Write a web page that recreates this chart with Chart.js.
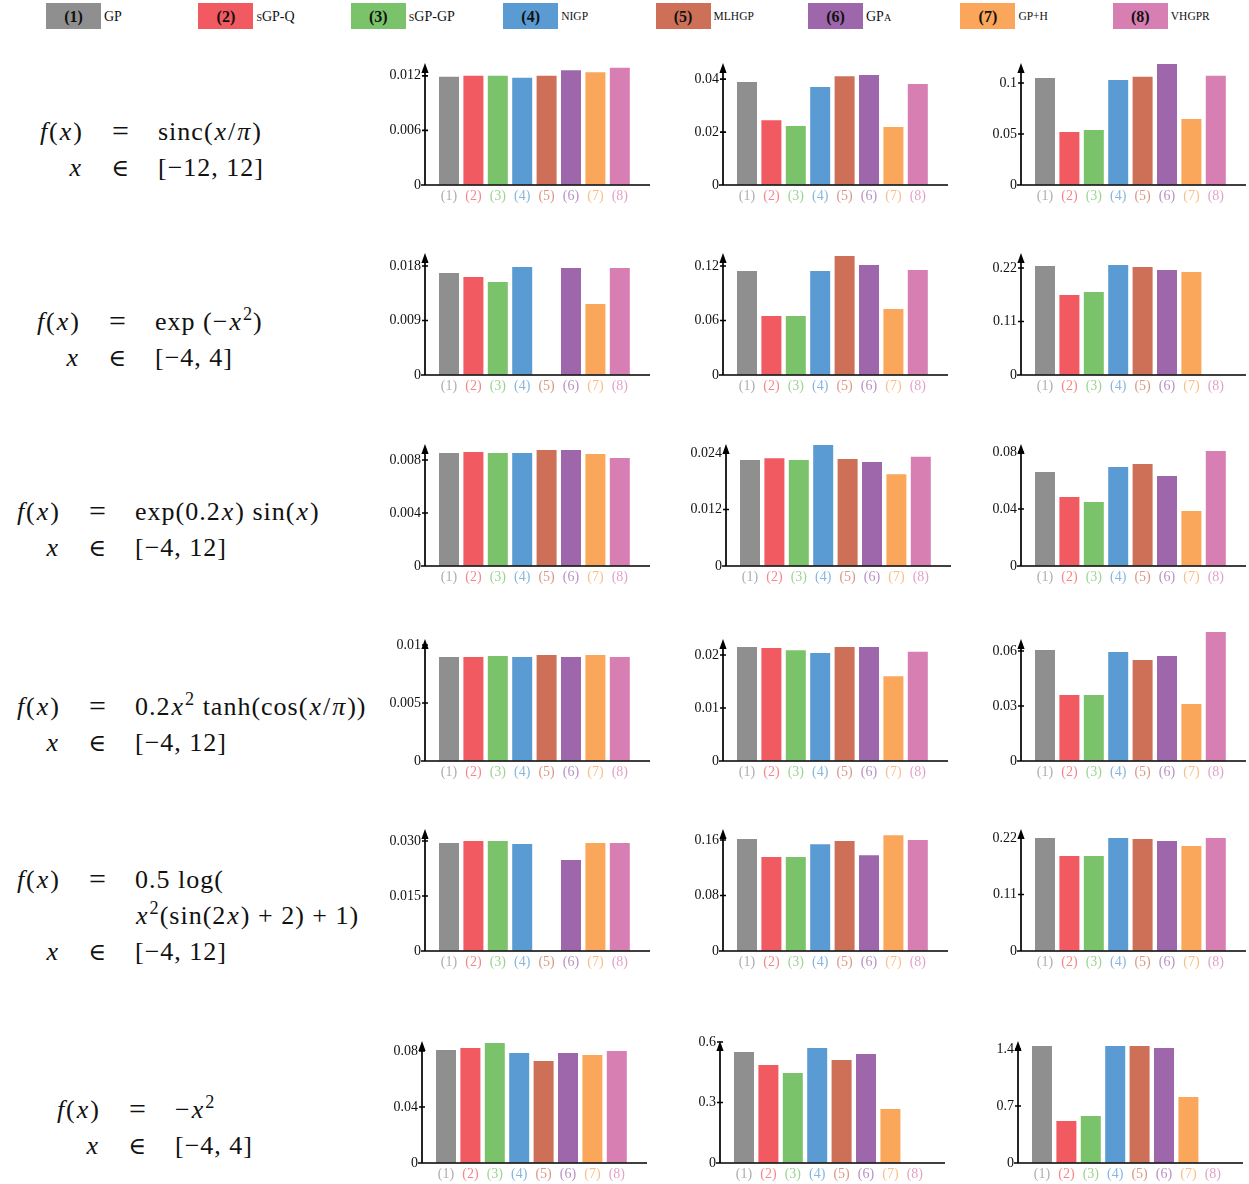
<!DOCTYPE html>
<html>
<head>
<meta charset="utf-8">
<script src="https://cdn.jsdelivr.net/npm/chart.js@4.4.1/dist/chart.umd.min.js"></script>
<style>
  body { margin: 0; width: 1249px; height: 1184px; position: relative; overflow: hidden; background: #fff; font-family: "Liberation Serif", serif; color: #111; }
  canvas { position: absolute; }
  .box { position: absolute; top: 3px; width: 55px; height: 26px; line-height: 27px; text-align: center; font-weight: bold; font-size: 16px; }
  .name { position: absolute; top: 3px; height: 26px; line-height: 27px; font-size: 14px; font-variant: small-caps; }
  .name.sm { font-size: 11.5px; }
  .fm { position: absolute; font-size: 26px; white-space: nowrap; line-height: 30px; letter-spacing: 1px; }
  .fm i { padding: 0 1px; }
  .fm sup { font-size: 0.7em; line-height: 0; vertical-align: 0.55em; }
  .fm .op { font-size: 30px; }
  .fm .in { font-family: "DejaVu Serif", serif; font-size: 24px; font-weight: 300; }
</style>
</head>
<body>
<div id="legend"></div>
<div id="formulas"></div>
<div id="charts"></div>
<script>
const methods = ["(1)", "(2)", "(3)", "(4)", "(5)", "(6)", "(7)", "(8)"];
const methodNames = ["GP", "sGP-Q", "sGP-GP", "NIGP", "MLHGP", "GPa", "GP+H", "VHGPR"];
const smallCapsNames = [false, false, false, true, true, false, true, true];
const methodColors = ["#8f8f8f", "#f15a60", "#7ac36a", "#5a9bd4", "#ce7058", "#9e67ab", "#faa75b", "#d77fb3"];

// row 1: sinc(x/pi)
const sincA = [0.0119, 0.0120, 0.0120, 0.0118, 0.0120, 0.0126, 0.0124, 0.0129];
const sincB = [0.0389, 0.0245, 0.0223, 0.0370, 0.0411, 0.0415, 0.0219, 0.0381];
const sincC = [0.105, 0.052, 0.054, 0.103, 0.106, 0.1186, 0.0647, 0.107];
const sincTicks = [["0", "0.006", "0.012"], ["0", "0.02", "0.04"], ["0", "0.05", "0.1"]];
const sincTop = [0.0133, 0.0457, 0.1186];

// row 2: exp(-x^2)
const gaussA = [0.01684, 0.01618, 0.01536, 0.01783, null, 0.01767, 0.01172, 0.01767];
const gaussB = [0.1145, 0.065, 0.065, 0.1145, 0.131, 0.121, 0.0727, 0.1156];
const gaussC = [0.224, 0.1645, 0.1707, 0.226, 0.222, 0.216, 0.212, null];
const gaussTicks = [["0", "0.009", "0.018"], ["0", "0.06", "0.12"], ["0", "0.11", "0.22"]];
const gaussTop = [0.01998, 0.1332, 0.2488];

// row 3: exp(0.2x) sin(x)
const expSinA = [0.00853, 0.0086, 0.00853, 0.00853, 0.00875, 0.00875, 0.00845, 0.00815];
const expSinB = [0.0225, 0.0229, 0.0225, 0.0257, 0.0227, 0.0221, 0.0195, 0.0232];
const expSinC = [0.066, 0.0484, 0.0449, 0.0695, 0.0716, 0.0632, 0.0386, 0.0807];
const expSinTicks = [["0", "0.004", "0.008"], ["0", "0.012", "0.024"], ["0", "0.04", "0.08"]];
const expSinTop = [0.00913, 0.0257, 0.0849];

// row 4: 0.2x^2 tanh(cos(x/pi))
const tanhA = [0.00897, 0.00897, 0.00905, 0.00897, 0.00914, 0.00897, 0.00914, 0.00897];
const tanhB = [0.0215, 0.0213, 0.0209, 0.0204, 0.0215, 0.0215, 0.0160, 0.0206];
const tanhC = [0.0605, 0.036, 0.036, 0.0595, 0.0551, 0.0573, 0.0311, 0.0704];
const tanhTicks = [["0", "0.005", "0.01"], ["0", "0.01", "0.02"], ["0", "0.03", "0.06"]];
const tanhTop = [0.01043, 0.02283, 0.066];

// row 5: 0.5 log(x^2 (sin(2x)+2)+1)
const logA = [0.02945, 0.0300, 0.0300, 0.0292, null, 0.0248, 0.02945, 0.02945];
const logB = [0.1614, 0.1355, 0.1355, 0.154, 0.1586, 0.138, 0.167, 0.160];
const logC = [0.220, 0.185, 0.185, 0.220, 0.218, 0.214, 0.2044, 0.220];
const logTicks = [["0", "0.015", "0.030"], ["0", "0.08", "0.16"], ["0", "0.11", "0.22"]];
const logTop = [0.033, 0.1744, 0.2356];

// row 6: -x^2
const quadA = [0.0807, 0.0821, 0.0857, 0.0786, 0.0729, 0.0786, 0.0771, 0.0800];
const quadB = [0.550, 0.486, 0.446, 0.570, 0.511, 0.540, 0.268, null];
const quadC = [1.437, 0.516, 0.577, 1.437, 1.437, 1.412, 0.810, null];
const quadTicks = [["0", "0.04", "0.08"], ["0", "0.3", "0.6"], ["0", "0.7", "1.4"]];
const quadTop = [0.0864, 0.6, 1.486];

const rows = [
  { vals: [sincA, sincB, sincC], ticks: sincTicks, top: sincTop },
  { vals: [gaussA, gaussB, gaussC], ticks: gaussTicks, top: gaussTop },
  { vals: [expSinA, expSinB, expSinC], ticks: expSinTicks, top: expSinTop },
  { vals: [tanhA, tanhB, tanhC], ticks: tanhTicks, top: tanhTop },
  { vals: [logA, logB, logC], ticks: logTicks, top: logTop },
  { vals: [quadA, quadB, quadC], ticks: quadTicks, top: quadTop }
];

// formulas: [left, middle, right] per line
const EQ = '<span class="op">=</span>', IN = '<span class="in">∈</span>';
const formulas = [
  { r: 83, y: 132, lines: [["<i>f</i>(<i>x</i>)", EQ, "sinc(<i>x</i>/<i>π</i>)"], ["<i>x</i>", IN, "[−12, 12]"]] },
  { r: 80, y: 322, lines: [["<i>f</i>(<i>x</i>)", EQ, "exp (−<i>x</i><sup>2</sup>)"], ["<i>x</i>", IN, "[−4, 4]"]] },
  { r: 60, y: 512, lines: [["<i>f</i>(<i>x</i>)", EQ, "exp(0.2<i>x</i>) sin(<i>x</i>)"], ["<i>x</i>", IN, "[−4, 12]"]] },
  { r: 60, y: 707, lines: [["<i>f</i>(<i>x</i>)", EQ, "0.2<i>x</i><sup>2</sup> tanh(cos(<i>x</i>/<i>π</i>))"], ["<i>x</i>", IN, "[−4, 12]"]] },
  { r: 60, y: 880, lines: [["<i>f</i>(<i>x</i>)", EQ, "0.5 log("], ["", "", "<i>x</i><sup>2</sup>(sin(2<i>x</i>) + 2) + 1)"], ["<i>x</i>", IN, "[−4, 12]"]] },
  { r: 100, y: 1110, lines: [["<i>f</i>(<i>x</i>)", EQ, "−<i>x</i><sup>2</sup>"], ["<i>x</i>", IN, "[−4, 4]"]] }
];

const zeroY = [185, 375, 566, 761, 951, 1163];
const axisX = [425, 723, 1021];
const plotH = 121;
const barGap = 11.8;   // from y axis to first category edge
const catSpan = 195.2; // 8 categories

// legend
const legend = document.getElementById("legend");
methods.forEach((m, i) => {
  const left = 46 + 152.4 * i;
  const b = document.createElement("div");
  b.className = "box";
  b.style.left = left + "px";
  b.style.background = methodColors[i];
  b.textContent = m;
  legend.appendChild(b);
  const n = document.createElement("div");
  n.className = "name" + (smallCapsNames[i] ? " sm" : "");
  n.style.left = (left + 58) + "px";
  n.textContent = methodNames[i];
  legend.appendChild(n);
});

// formulas
const fbox = document.getElementById("formulas");
formulas.forEach(f => {
  f.lines.forEach((ln, k) => {
    const cy = f.y + 36 * k;
    const parts = [
      { html: ln[0], x: f.r, tx: "-100%" },
      { html: ln[1], x: f.r + 38, tx: "-50%" },
      { html: ln[2], x: f.r + 75, tx: "0" }
    ];
    parts.forEach(p => {
      if (!p.html) return;
      const s = document.createElement("div");
      s.className = "fm";
      s.style.left = p.x + "px";
      s.style.top = cy + "px";
      s.style.transform = "translate(" + p.tx + ", -50%)";
      s.innerHTML = p.html;
      fbox.appendChild(s);
    });
  });
});

const arrowAxes = {
  id: "arrowAxes",
  afterDatasetsDraw(chart) {
    const { ctx, chartArea: a, scales } = chart;
    const x0 = a.left - barGap;
    ctx.save();
    ctx.strokeStyle = "#000";
    ctx.fillStyle = "#000";
    ctx.lineWidth = 1.7;
    ctx.beginPath();
    ctx.moveTo(x0, a.bottom);
    ctx.lineTo(x0, a.top + 5);
    ctx.moveTo(x0 - 4, a.bottom);
    ctx.lineTo(x0 + 225, a.bottom);
    scales.y.ticks.forEach(t => {
      const py = scales.y.getPixelForValue(t.value);
      ctx.moveTo(x0 - 3, py);
      ctx.lineTo(x0 + 3, py);
    });
    ctx.stroke();
    ctx.beginPath();
    ctx.moveTo(x0, a.top - 1);
    ctx.lineTo(x0 - 3.6, a.top + 9);
    ctx.lineTo(x0 + 3.6, a.top + 9);
    ctx.closePath();
    ctx.fill();
    ctx.restore();
  }
};

const labelColors = methodColors.map(c => c + "bb");
const holder = document.getElementById("charts");
const padTop = 14, axisH = 24, leftRoom = 48, W = 280;

rows.forEach((row, r) => {
  row.vals.forEach((vals, c) => {
    let ax = axisX[c];
    if (r === 5) ax -= 3;
    if (r === 2 && c === 1) ax += 3;
    const cv = document.createElement("canvas");
    const H = padTop + plotH + axisH;
    cv.width = W;
    cv.height = H;
    cv.style.left = (ax - leftRoom) + "px";
    cv.style.top = (zeroY[r] - plotH - padTop) + "px";
    holder.appendChild(cv);
    const tickLabels = row.ticks[c];
    new Chart(cv.getContext("2d"), {
      type: "bar",
      data: {
        labels: methods,
        datasets: [{
          data: vals,
          backgroundColor: methodColors,
          barPercentage: 0.82,
          categoryPercentage: 1,
          clip: false
        }]
      },
      options: {
        responsive: false,
        animation: false,
        devicePixelRatio: 1,
        layout: { padding: { top: padTop, left: 0, bottom: 0, right: W - leftRoom - barGap - catSpan } },
        plugins: { legend: { display: false }, tooltip: { enabled: false } },
        scales: {
          x: {
            type: "category",
            offset: true,
            grid: { display: false },
            border: { display: false },
            afterFit: s => { s.height = axisH; },
            ticks: {
              autoSkip: false,
              maxRotation: 0,
              padding: -5,
              font: { family: "Liberation Serif", size: 14 },
              color: ctx => labelColors[ctx.index]
            }
          },
          y: {
            min: 0,
            max: row.top[c],
            grid: { display: true, drawOnChartArea: false, drawTicks: true, tickLength: barGap + 4, color: "rgba(0,0,0,0)" },
            border: { display: false },
            afterFit: s => { s.width = leftRoom + barGap; },
            afterBuildTicks: s => { s.ticks = tickLabels.map(t => ({ value: parseFloat(t) })); },
            ticks: {
              padding: 0,
              font: { family: "Liberation Serif", size: 14 },
              color: "#111",
              callback: (v, i) => tickLabels[i]
            }
          }
        }
      },
      plugins: [arrowAxes]
    });
  });
});
</script>
</body>
</html>
